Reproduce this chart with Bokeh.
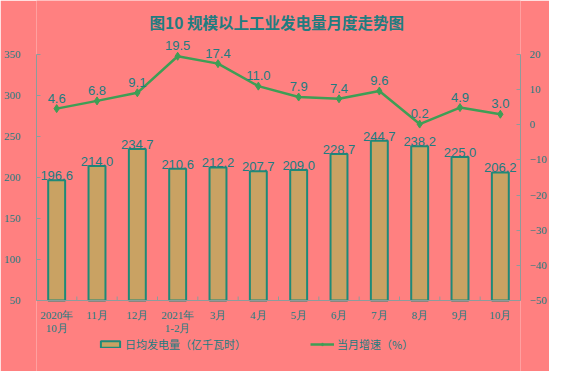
from bokeh.plotting import figure
from bokeh.models import (Range1d, LinearAxis, FixedTicker, ColumnDataSource, LabelSet,
                          Legend, LegendItem, Label, Span)
from bokeh.core.properties import value
from bokeh.embed import file_html
from bokeh.resources import INLINE

categories = ["2020年\n10月", "11月", "12月", "2021年\n1-2月", "3月", "4月", "5月", "6月",
              "7月", "8月", "9月", "10月"]
daily_output = [196.6, 214.0, 234.7, 210.6, 212.2, 207.7, 209.0, 228.7, 244.7, 238.2, 225.0, 206.2]
growth = [4.6, 6.8, 9.1, 19.5, 17.4, 11.0, 7.9, 7.4, 9.6, 0.2, 4.9, 3.0]
left_ticks = [50, 100, 150, 200, 250, 300, 350]
right_ticks = [20, 10, 0, -10, -20, -30, -40, -50]

BG = "#FF8080"
TEAL = "#217C80"
BAR_FILL = "#C9A263"
BAR_LINE = "#1E8A78"
LINE_C = "#3E9E55"
AXIS_C = "#8C9C9C"

n = len(categories)
xs = [i + 0.5 for i in range(n)]
src = ColumnDataSource(dict(
    x=xs, bar=daily_output, g=growth, cat=categories,
    bar_lbl=[f"{v:.1f}" for v in daily_output],
    g_lbl=[f"{v:.1f}" for v in growth],
))

L_LO, L_HI = 50, 350
R_LO, R_HI = -50, 20
PLOT_PX = 246.0          # pixels between the lowest and highest tick
TOP_PAD = 54.0           # pixels above the highest tick
H = 371
BOT_PAD = H - TOP_PAD - PLOT_PX
lpx = (L_HI - L_LO) / PLOT_PX
rpx = (R_HI - R_LO) / PLOT_PX

p = figure(width=545, height=H, output_backend="svg", toolbar_location=None,
           x_range=Range1d(0, n),
           y_range=Range1d(L_LO - BOT_PAD * lpx, L_HI + TOP_PAD * lpx),
           frame_width=484, frame_height=H,
           min_border_left=33, min_border_right=28, min_border_top=0, min_border_bottom=0,
           background_fill_color=BG, border_fill_color=BG, outline_line_color=None)
p.xgrid.visible = False
p.ygrid.visible = False
p.xaxis.visible = False
p.extra_y_ranges = {"g": Range1d(R_LO - BOT_PAD * rpx, R_HI + TOP_PAD * rpx)}

ya = p.yaxis[0]
ya.bounds = (L_LO, L_HI)
ya.ticker = FixedTicker(ticks=left_ticks, minor_ticks=[])
ya.axis_line_color = AXIS_C
ya.major_tick_line_color = AXIS_C
ya.major_tick_in = 4
ya.major_tick_out = 0
ya.major_label_standoff = 16
ya.major_label_text_font = "Liberation Serif"
ya.major_label_text_font_size = "11px"
ya.major_label_text_color = TEAL

ra = LinearAxis(y_range_name="g", ticker=FixedTicker(ticks=right_ticks, minor_ticks=[]),
                bounds=(R_LO, R_HI))
ra.axis_line_color = AXIS_C
ra.major_tick_line_color = AXIS_C
ra.major_tick_in = 4
ra.major_tick_out = 0
ra.major_label_standoff = 9
ra.major_label_text_font = "Liberation Serif"
ra.major_label_text_font_size = "11px"
ra.major_label_text_color = TEAL
p.add_layout(ra, "right")

# category axis (baseline, ticks between categories, labels)
p.add_layout(Span(location=L_LO, dimension="width", line_color=AXIS_C, line_width=1))
edges = list(range(n + 1))
p.segment(x0=edges, y0=[L_LO] * len(edges), x1=edges, y1=[L_LO + 4 * lpx] * len(edges),
          line_color=AXIS_C, line_width=1)
p.text(x="x", y=L_LO, text="cat", source=src, y_offset=8,
       text_align="center", text_baseline="top", text_line_height=1.1,
       text_font=value("Liberation Serif"), text_font_size="11px", text_color=TEAL)

bars = p.vbar(x="x", top="bar", bottom=L_LO, width=0.42, source=src,
              fill_color=BAR_FILL, line_color=BAR_LINE, line_width=2)
ln = p.line(x="x", y="g", source=src, y_range_name="g", line_color=LINE_C, line_width=2.5)
mk = p.scatter(x="x", y="g", source=src, y_range_name="g", marker="diamond", size=8,
               fill_color=LINE_C, line_color=LINE_C)

bar_labels = LabelSet(x="x", y="bar", text="bar_lbl", source=src,
                      text_align=value("center"), text_baseline=value("bottom"), y_offset=0,
                      text_font=value("Liberation Sans"), text_font_size=value("13px"),
                      text_color=value(TEAL))
g_labels = LabelSet(x="x", y="g", text="g_lbl", source=src, y_range_name="g",
                    text_align=value("center"), text_baseline=value("bottom"), y_offset=6,
                    text_font=value("Liberation Sans"), text_font_size=value("13px"),
                    text_color=value(TEAL))
p.add_layout(bar_labels)
p.add_layout(g_labels)

title = Label(x=n / 2, y=L_HI + (TOP_PAD - 21) * lpx, text="图10  规模以上工业发电量月度走势图",
              text_align="center", text_baseline="middle", text_font="Noto Sans CJK SC",
              text_font_style="bold", text_font_size="15.5px", text_color=TEAL)
p.add_layout(title)

legend = Legend(items=[LegendItem(label="日均发电量（亿千瓦时）", renderers=[bars]),
                       LegendItem(label="当月增速（%）", renderers=[ln, mk])],
                location=(62, H - 345 - 7), orientation="horizontal",
                background_fill_alpha=0, border_line_alpha=0,
                glyph_width=24, glyph_height=8, spacing=64, padding=0, margin=0,
                label_standoff=3, label_text_font="Noto Sans CJK SC",
                label_text_font_size="11px", label_text_color=TEAL)
p.add_layout(legend, "center")

open("out.html", "w").write(file_html(p, INLINE))
